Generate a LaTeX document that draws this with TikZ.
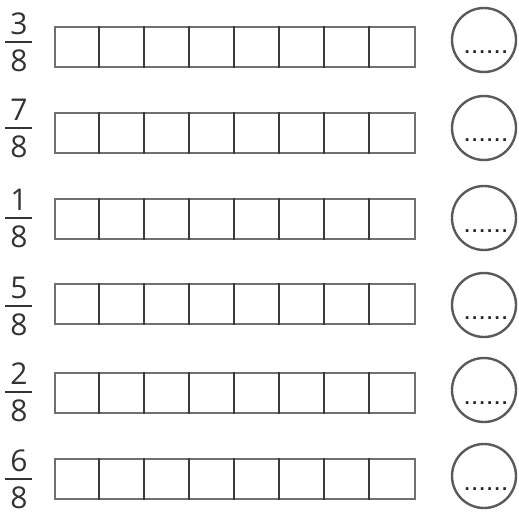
\documentclass[tikz,border=0pt]{standalone}
\usepackage{fontspec}
\usetikzlibrary{calc}
\setmainfont{Open Sans}
\newfontfamily\dotfont[LetterSpace=12]{DejaVu Sans Bold}
\definecolor{digit}{HTML}{333333}
\definecolor{frame}{HTML}{707070}
\definecolor{divider}{HTML}{3A3A3A}
\definecolor{ring}{HTML}{5A5A5A}
\tikzset{
  barbox/.style={draw=frame, line width=2pt, minimum width=360pt, minimum height=40pt, inner sep=0pt, anchor=north west},
  ringnode/.style={draw=ring, line width=2.4pt, circle, minimum size=64pt, inner sep=0pt},
  digitnode/.style={text=digit, font=\fontsize{30}{30}\selectfont, inner sep=0pt},
  dotsnode/.style={text=black!85, font=\dotfont\fontsize{15}{15}\selectfont, inner sep=0pt, anchor=base},
  fracline/.style={draw=digit, line width=1.6pt},
  divline/.style={draw=divider, line width=1.1pt}
}
\begin{document}
\begin{tikzpicture}[x=1pt,y=-1pt]
\useasboundingbox (0,0) rectangle (519,516);
\foreach \i/\top/\cy/\fy/\num in {1/26/40/42/3, 2/112/128/128/7, 3/198/218/218/1, 4/283/305/306/5, 5/372/390/392/2, 6/458/476/479/6} {
  \node[barbox] (bar\i) at (54,\top) {};
  \foreach \k in {1,...,7} {
    \draw[divline] ($(bar\i.north west)+(45*\k,0)$) -- ($(bar\i.south west)+(45*\k,0)$);
  }
  \node[ringnode] (ring\i) at (484,\cy) {};
  \node[dotsnode] (dots\i) at (486,\cy+14) {......};
  \node[digitnode] (num\i) at (19,\fy-18) {\num};
  \node[digitnode] (den\i) at (19,\fy+19) {8};
  \coordinate (fl\i) at (5,\fy);
  \coordinate (fr\i) at (32,\fy);
  \draw[fracline] (fl\i) -- (fr\i);
}
\end{tikzpicture}
\end{document}
